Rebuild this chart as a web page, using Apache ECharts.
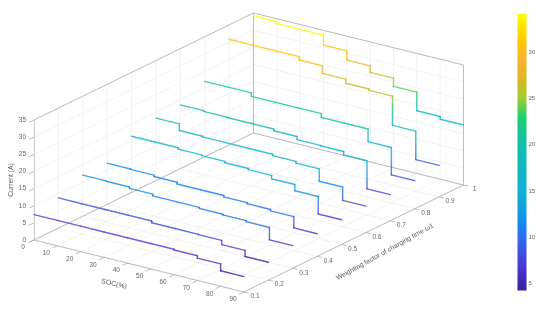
<!DOCTYPE html>
<html>
<head>
<meta charset="utf-8">
<style>html,body{margin:0;padding:0;background:#fff}#c{width:550px;height:313px;filter:blur(0.45px)}</style>
<script src="https://cdn.jsdelivr.net/npm/echarts@6/dist/echarts.min.js"></script>
</head>
<body>
<div id="c"></div>
<script>
// ---- data ----
const socTicks = [0, 10, 20, 30, 40, 50, 60, 70, 80, 90];
const weightTicks = [0.1, 0.2, 0.3, 0.4, 0.5, 0.6, 0.7, 0.8, 0.9, 1];
const currentTicks = [0, 5, 10, 15, 20, 25, 30, 35];
const colorbarTicks = [5, 10, 15, 20, 25, 30];
// current (A) in each 10 % SOC interval, one list per weighting factor
const currentW01 = [7.4, 7.4, 7.4, 7.4, 7.4, 7.4, 7.2, 6.5, 4.5];
const currentW02 = [8.8, 8.8, 8.8, 8.8, 8.3, 8.3, 8.2, 7.0, 5.2];
const currentW03 = [12.0, 11.9, 11.5, 11.0, 11.0, 10.7, 10.5, 10.2, 6.6];
const currentW04 = [12.0, 11.9, 11.5, 11.0, 11.0, 10.6, 10.3, 9.9, 6.6];
const currentW05 = [16.4, 16.4, 16.0, 15.8, 15.4, 15.1, 14.1, 12.3, 7.2];
const currentW06 = [18.2, 16.3, 16.1, 16.1, 16.1, 15.7, 15.2, 11.6, 7.7];
const currentW07 = [18.6, 18.4, 18.3, 18.3, 17.8, 16.9, 16.8, 15.8, 7.6];
const currentW08 = [22.0, 22.0, 21.0, 21.0, 21.0, 19.9, 19.9, 16.2, 8.2];
const currentW09 = [30.8, 30.8, 30.8, 29.8, 27.6, 26.4, 26.0, 17.5, 9.2];
const currentW10 = [34.2, 33.6, 33.6, 30.7, 28.0, 26.1, 23.7, 18.3, 17.5];
const traces = [currentW01, currentW02, currentW03, currentW04, currentW05,
                currentW06, currentW07, currentW08, currentW09, currentW10];
const colorStops = [
  [4.25, '#3a1c9e'], [7, '#4a3ad0'], [10, '#2f6cf0'], [11, '#1780f0'], [13, '#14a0e0'],
  [15, '#10b0d8'], [18, '#10b8c0'], [20, '#10c0a8'], [23, '#1ccf70'], [25, '#9ccc30'],
  [27, '#d8b820'], [29, '#fbb030'], [31, '#ffc400'], [33, '#ffe800'], [34.2, '#ffff00']
];
const cMin = 4.25, cMax = 34.2;

// ---- oblique 3D view of the box onto the page ----
function project(soc, w, cur) {
  const a = soc / 90, b = (w - 0.1) / 0.9;
  return [34 + a * 210 + b * 219.5, 240 + a * 52 - b * 107 - cur * 120 / 35];
}
function hex(c) { return [1, 3, 5].map(i => parseInt(c.substr(i, 2), 16)); }
function colorAt(v) {
  v = Math.max(cMin, Math.min(cMax, v));
  for (let i = 1; i < colorStops.length; i++) {
    if (v <= colorStops[i][0]) {
      const t = (v - colorStops[i - 1][0]) / (colorStops[i][0] - colorStops[i - 1][0]);
      const A = hex(colorStops[i - 1][1]), B = hex(colorStops[i][1]);
      return 'rgb(' + A.map((x, k) => Math.round(x + (B[k] - x) * t)).join(',') + ')';
    }
  }
  return colorStops[colorStops.length - 1][1];
}

const wMin = weightTicks[0], wMax = 1, socMax = 90, curMax = 35;

const gridRows = [];
socTicks.forEach(s => {
  gridRows.push([s, wMin, 0, s, wMax, 0]);
  gridRows.push([s, wMax, 0, s, wMax, curMax]);
});
weightTicks.forEach(w => {
  gridRows.push([0, w, 0, socMax, w, 0]);
  gridRows.push([0, w, 0, 0, w, curMax]);
});
currentTicks.forEach(c => {
  gridRows.push([0, wMin, c, 0, wMax, c]);
  gridRows.push([0, wMax, c, socMax, wMax, c]);
});
const edgeRows = [
  [0, wMin, curMax, 0, wMax, curMax], [0, wMax, curMax, socMax, wMax, curMax],
  [0, wMax, 0, 0, wMax, curMax], [socMax, wMax, 0, socMax, wMax, curMax],
  [0, wMin, 0, socMax, wMin, 0], [socMax, wMin, 0, socMax, wMax, 0],
  [0, wMin, 0, 0, wMax, 0], [0, wMax, 0, socMax, wMax, 0]
];
const tickRows = [];
socTicks.forEach(s => tickRows.push([s, wMin, 0, s, wMin - 0.02, 0]));
weightTicks.forEach(w => tickRows.push([socMax, w, 0, socMax + 2, w, 0]));
currentTicks.forEach(c => tickRows.push([0, wMin, c, 0, wMin - 0.02, c]));

const traceRows = [];
traces.forEach((vals, wi) => {
  const w = weightTicks[wi];
  vals.forEach((cur, k) => {
    const s0 = socTicks[k], s1 = socTicks[k + 1];
    traceRows.push([s0, w, cur, s1, w, cur]);
    if (k < vals.length - 1) traceRows.push([s1, w, cur, s1, w, vals[k + 1]]);
  });
});

function segment(style, z) {
  return function (params, api) {
    const a = api.coord(project(api.value(0), api.value(1), api.value(2)));
    const b = api.coord(project(api.value(3), api.value(4), api.value(5)));
    return { type: 'line', shape: { x1: a[0], y1: a[1], x2: b[0], y2: b[1] }, style: style };
  };
}
function traceSegment(params, api) {
  const c0 = api.value(2), c1 = api.value(5);
  const a = api.coord(project(api.value(0), api.value(1), c0));
  const b = api.coord(project(api.value(3), api.value(4), c1));
  let stroke = colorAt(c0);
  if (c0 !== c1) {
    const stops = [];
    for (let i = 0; i <= 8; i++) stops.push({ offset: i / 8, color: colorAt(c0 + (c1 - c0) * i / 8) });
    stroke = new echarts.graphic.LinearGradient(a[0], a[1], b[0], b[1] + 0.01, stops, true);
  }
  return { type: 'line', shape: { x1: a[0], y1: a[1], x2: b[0], y2: b[1] },
           style: { stroke: stroke, lineWidth: 1.4, lineCap: 'round', fill: null, opacity: 0.82 } };
}
function tickLabel(fn, dx, dy) {
  return function (params, api) {
    const v = api.value(0);
    const p = api.coord(fn(v));
    return { type: 'text', x: p[0] + dx, y: p[1] + dy,
             style: { text: String(v), fill: '#666', font: '6.5px "Liberation Sans", Arial, sans-serif',
                      align: 'center', verticalAlign: 'middle' } };
  };
}
function custom(name, data, render, z) {
  return { type: 'custom', name: name, xAxisIndex: 0, yAxisIndex: 0, data: data, renderItem: render,
           silent: true, z: z, clip: false, animation: false, encode: { x: 0, y: 1 } };
}

const option = {
  backgroundColor: '#fff',
  animation: false,
  grid: [
    { left: 0, top: 0, width: 550, height: 313 },
    { left: 34, top: 120, width: 1, height: 120 },
    { left: 517.5, top: 13.5, width: 9, height: 277 }
  ],
  xAxis: [
    { gridIndex: 0, type: 'value', min: 0, max: 550, show: false },
    { gridIndex: 1, type: 'value', min: 0, max: 1, show: false },
    { gridIndex: 2, type: 'value', min: 0, max: 1, show: false }
  ],
  yAxis: [
    { gridIndex: 0, type: 'value', min: 0, max: 313, inverse: true, show: false },
    { gridIndex: 1, type: 'value', min: 0, max: 35, interval: 5, position: 'left',
      axisLine: { show: true, lineStyle: { color: '#bbb', width: 1 } }, axisTick: { show: false },
      splitLine: { show: false },
      axisLabel: { color: '#666', fontSize: 6.5, fontFamily: 'Liberation Sans', margin: 8, showMinLabel: true, showMaxLabel: true },
      name: 'Current (A)', nameLocation: 'middle', nameRotate: 90, nameGap: 18,
      nameTextStyle: { color: '#555', fontSize: 6.8, fontFamily: 'Liberation Sans' } },
    { gridIndex: 2, type: 'value', min: cMin, max: cMax, position: 'right',
      axisLine: { show: false }, axisTick: { show: false }, splitLine: { show: false },
      axisLabel: { color: '#666', fontSize: 6, fontFamily: 'Liberation Sans', margin: 2, customValues: colorbarTicks } }
  ],
  series: [
    custom('grid', gridRows, segment({ stroke: '#ededed', lineWidth: 0.7, fill: null }), 1),
    custom('box', edgeRows, segment({ stroke: '#bdbdbd', lineWidth: 1, fill: null }), 2),
    custom('ticks', tickRows, segment({ stroke: '#aaa', lineWidth: 0.8, fill: null }), 2),
    custom('traces', traceRows, traceSegment, 5),
    custom('socLabels', socTicks.map(s => [s]), tickLabel(s => project(s, wMin, 0), -11, 7.5), 3),
    custom('weightLabels', weightTicks.map(w => [w]), tickLabel(w => project(socMax, w, 0), 11, 4.5), 3),
    { type: 'custom', name: 'colorbar', xAxisIndex: 2, yAxisIndex: 2, silent: true, animation: false,
      data: [[0, cMin, 1, cMax]], encode: { x: 0, y: 1 },
      renderItem: function (params, api) {
        const a = api.coord([api.value(0), api.value(1)]);
        const b = api.coord([api.value(2), api.value(3)]);
        const stops = colorStops.map(s => ({ offset: (s[0] - cMin) / (cMax - cMin), color: s[1] }));
        return { type: 'rect', shape: { x: a[0], y: b[1], width: b[0] - a[0], height: a[1] - b[1] },
                 style: { fill: new echarts.graphic.LinearGradient(0, 1, 0, 0, stops) } };
      } }
  ],
  graphic: [
    { type: 'text', x: 114, y: 284, rotation: -13 * Math.PI / 180,
      style: { text: 'SOC(%)', fill: '#555', font: '7px "Liberation Sans", Arial, sans-serif', align: 'center', verticalAlign: 'middle' } },
    { type: 'text', x: 385, y: 252, rotation: 29 * Math.PI / 180,
      style: { text: 'Weighting factor of charging time \u03C91', fill: '#555', font: '6.8px "Liberation Sans", Arial, sans-serif', align: 'center', verticalAlign: 'middle' } }
  ]
};
const chart = echarts.init(document.getElementById('c'), null, { renderer: 'canvas', width: 550, height: 313 });
chart.setOption(option);
</script>
</body>
</html>
